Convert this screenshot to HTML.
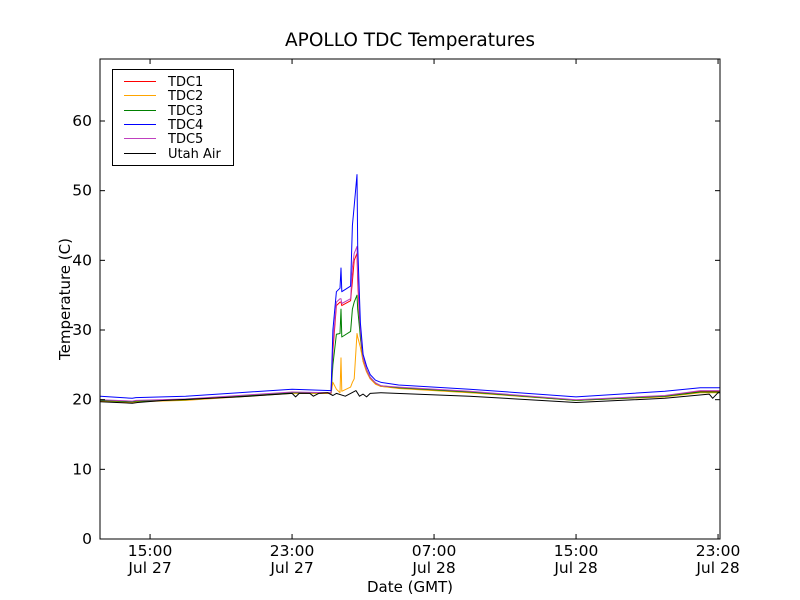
<!DOCTYPE html>
<html><head><meta charset="utf-8"><style>
body{margin:0;background:#fff;}
svg{display:block;font-family:"DejaVu Sans","Liberation Sans",sans-serif;}
</style></head><body>
<svg id="c" width="800" height="600">
<rect width="800" height="600" fill="#fff"/>
<text x="410" y="46" font-size="18.5" text-anchor="middle">APOLLO TDC Temperatures</text>
<text x="410" y="592" font-size="15" text-anchor="middle">Date (GMT)</text>
<text transform="translate(70,299) rotate(-90)" font-size="15" text-anchor="middle">Temperature (C)</text>
<g id="plot"></g>
</svg>
<script>
const times = [12.2,14.0,14.2,17,20,23,25.2,25.3,25.5,25.7,25.76,25.8,26.3,26.4,26.5,26.66,26.7,26.85,27.0,27.2,27.4,27.7,28.0,29,33,39,44,46,47.2];
const tdc1 = [19.9,19.7,19.8,20.0,20.5,21.0,20.9,27,33.5,34,34,33.5,34.2,37,40,41,37,29,25.5,24,23,22.3,21.9,21.7,21.1,19.9,20.5,21.2,21.2];
const tdc2 = [19.8,19.6,19.7,19.9,20.4,20.9,20.9,22.5,21.5,21.0,26,21.2,21.8,22.5,23,29.5,29,27.5,25.5,24,23,22.2,21.9,21.6,21.0,19.9,20.4,21.0,21.0];
const tdc3 = [19.9,19.7,19.8,20.0,20.5,21.0,21.0,25,29.4,29.5,33,29,29.8,33,34,35,33,29,26,24.3,23.2,22.4,22,21.7,21.1,19.9,20.5,21.1,21.1];
const tdc4 = [20.5,20.2,20.3,20.5,21.0,21.5,21.3,30,35.5,36,38.9,35.5,36.3,45,47.8,52.3,42,31,26.5,24.8,23.6,22.8,22.5,22.1,21.5,20.4,21.2,21.7,21.7];
const tdc5 = [20.0,19.8,19.9,20.1,20.6,21.1,21.0,28,34,34.5,34.5,33.8,34.5,39,41,42,38,30,26,24.3,23.2,22.4,22,21.8,21.2,20,20.6,21.3,21.3];
const airTimes = [12.2,14.0,14.3,15.8,20,23,23.2,23.4,24,24.2,24.5,25,25.3,25.5,26.0,26.3,26.6,26.8,27.0,27.2,27.4,28,33,39,44,46.5,46.7,47.0,47.2];
const airVals = [19.7,19.5,19.6,19.9,20.4,20.9,20.4,20.9,20.9,20.5,20.9,21.0,20.6,20.9,20.5,20.9,21.3,20.5,20.8,20.4,20.9,21.0,20.5,19.6,20.2,20.8,20.2,21.0,21.0];
const yTicks = [0,10,20,30,40,50,60];
const xTicks = [15,23,31,39,47];
const xTickLabels = [["15:00","Jul 27"],["23:00","Jul 27"],["07:00","Jul 28"],["15:00","Jul 28"],["23:00","Jul 28"]];
const seriesNames = ["TDC1","TDC2","TDC3","TDC4","TDC5","Utah Air"];
const seriesColors = ["#ff0000","#ffa500","#008000","#0000ff","#bf40bf","#000000"];

const L=100,R=720,T=59,B=539,X0=12.18,X1=47.11,Y0=0,Y1=68.9;
const xs=h=>L+(h-X0)/(X1-X0)*(R-L);
const ys=v=>B-(v-Y0)/(Y1-Y0)*(B-T);
const NS="http://www.w3.org/2000/svg";
const g=document.getElementById('plot');
function mk(tag,attrs,parent){const e=document.createElementNS(NS,tag);for(const k in attrs)e.setAttribute(k,attrs[k]);(parent||g).appendChild(e);return e;}

const clip=mk('clipPath',{id:'cp'});mk('rect',{x:L,y:T,width:R-L,height:B-T},clip);
const lines=[[times,tdc1],[times,tdc2],[times,tdc3],[times,tdc5],[times,tdc4],[airTimes,airVals]];
const colIdx=[0,1,2,4,3,5];
lines.forEach((s,i)=>{
  const d=s[0].map((t,j)=>(j?'L':'M')+xs(t).toFixed(1)+' '+ys(s[1][j]).toFixed(1)).join(' ');
  const p=mk('path',{d:d,fill:'none',stroke:seriesColors[colIdx[i]],'stroke-width':1,'stroke-linejoin':'round','clip-path':'url(#cp)'});
  
  
});
const fr=mk('rect',{x:L,y:T,width:R-L,height:B-T,fill:'none',stroke:'#000','stroke-width':1});


yTicks.forEach(v=>{
  const y=ys(v);
  mk('line',{x1:L,x2:L+5,y1:y,y2:y,stroke:'#000'});
  mk('line',{x1:R,x2:R-5,y1:y,y2:y,stroke:'#000'});
  const t=mk('text',{x:L-8,y:y+5,'font-size':15.5,'text-anchor':'end'});t.textContent=v;
  
  
});
xTicks.forEach((h,i)=>{
  const x=xs(h);
  mk('line',{x1:x,x2:x,y1:B,y2:B-5,stroke:'#000'});
  mk('line',{x1:x,x2:x,y1:T,y2:T+5,stroke:'#000'});
  const t=mk('text',{x:x,y:556,'font-size':15.5,'text-anchor':'middle'});t.textContent=xTickLabels[i][0];
  
  
  const t2=mk('text',{x:x,y:573,'font-size':15.5,'text-anchor':'middle'});t2.textContent=xTickLabels[i][1];
  
  
});
const lg=mk('g',{});


mk('rect',{x:112.5,y:69.5,width:121,height:96,fill:'#fff',stroke:'#000'},lg);
seriesNames.forEach((n,i)=>{
  const y=Math.round(81+i*14.3)+0.5;
  mk('line',{x1:124,x2:156,y1:y,y2:y,stroke:seriesColors[i],'stroke-width':1},lg);
  const t=mk('text',{x:168,y:y+4.5,'font-size':13},lg);t.textContent=n;
  
  
});
</script>
</body></html>
